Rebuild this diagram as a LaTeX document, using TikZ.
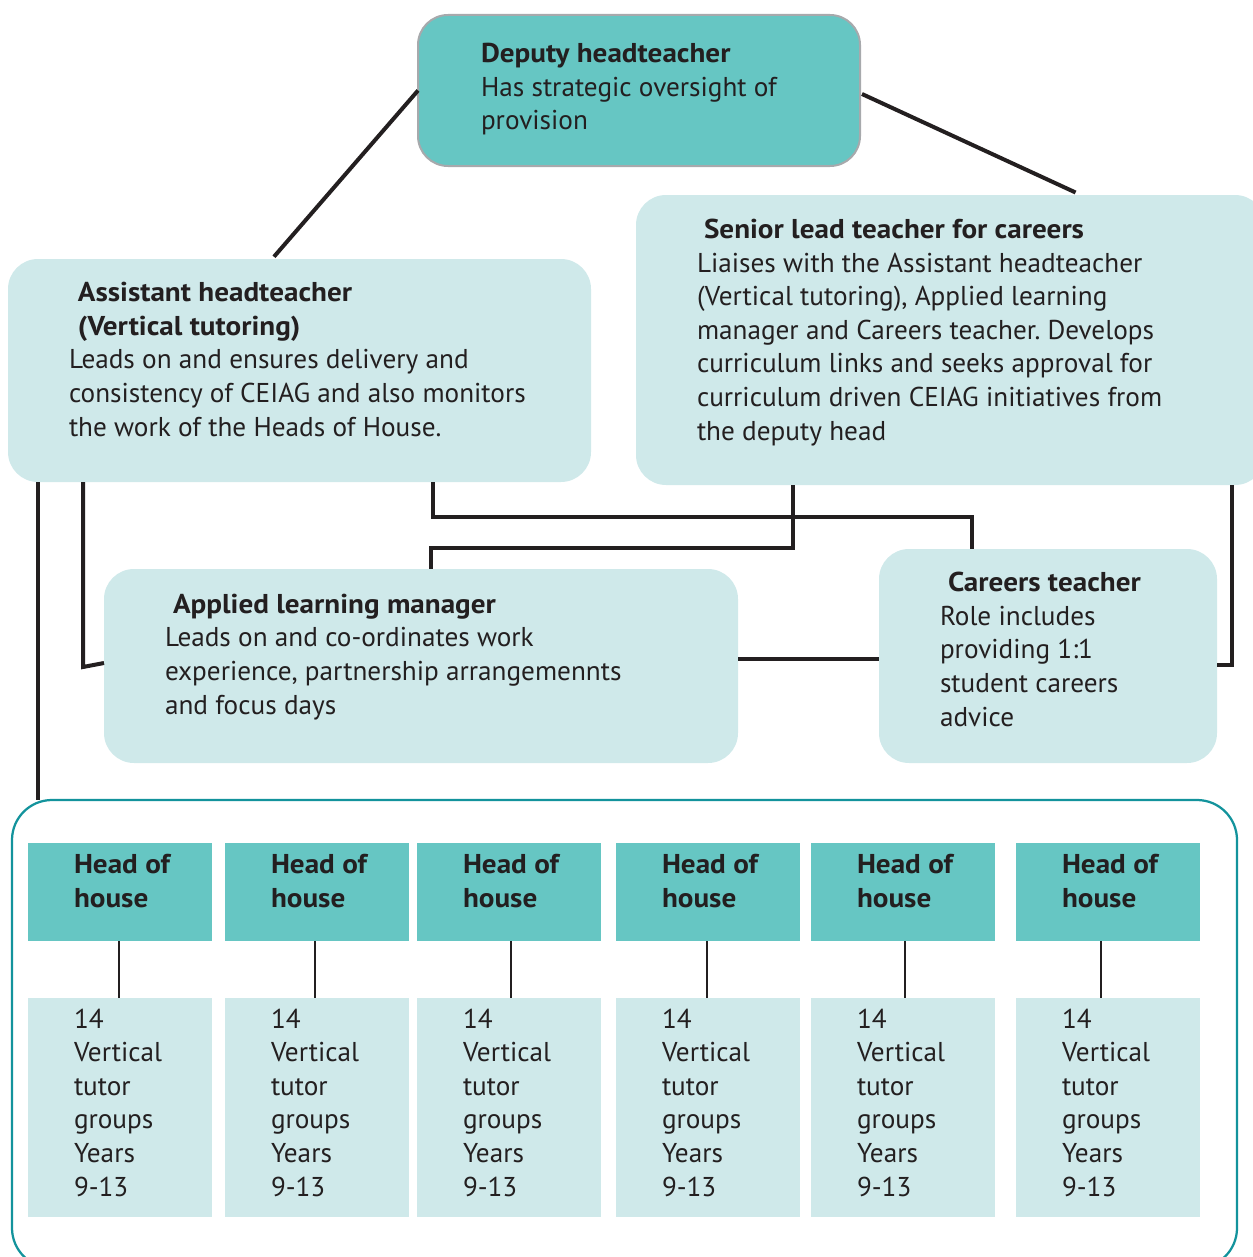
\documentclass[tikz,border=0pt]{standalone}
\usepackage{fontspec}
\setmainfont{PT Sans}[BoldFeatures={FakeStretch=1.07}]
\frenchspacing
\definecolor{tealdark}{HTML}{66C6C3}
\definecolor{teallight}{HTML}{CFE9EA}
\definecolor{outlinec}{HTML}{13939C}
\definecolor{linec}{HTML}{231F20}
\definecolor{borderc}{HTML}{A7A9AC}
\newcommand\mkbox[6]{\node[#1, minimum width={(#5-#3)*0.02cm}, minimum height={(#6-#4)*0.02cm}] (#2) at ({(#3+#5)/2},{(#4+#6)/2}) {};}
\begin{document}
\begin{tikzpicture}[x=0.02cm,y=-0.02cm,
  boxbase/.style={rectangle, inner sep=0pt, outer sep=0pt},
  darkround/.style={boxbase, fill=tealdark, draw=borderc, line width=0.04cm, rounded corners=0.6cm},
  lightround/.style={boxbase, fill=teallight, rounded corners=0.6cm},
  darksq/.style={boxbase, fill=tealdark},
  lightsq/.style={boxbase, fill=teallight},
  outline/.style={boxbase, draw=outlinec, line width=0.045cm, rounded corners=0.8cm},
  conn/.style={draw=linec, line width=0.08cm},
  thinconn/.style={draw=linec, line width=0.04cm},
  txt/.style={anchor=base west, align=left, inner sep=0pt, outer sep=0pt, text=linec, font=\fontsize{15.5}{19.1}\selectfont},
]
\useasboundingbox (0,0) rectangle (1252,1257);
% boxes
\mkbox{darkround}{deputy}{418}{15}{860}{166}
\mkbox{lightround}{asst}{8}{259}{591}{482}
\mkbox{lightround}{senior}{636}{195}{1265}{485}
\mkbox{lightround}{applied}{104}{569}{738}{763}
\mkbox{lightround}{careers}{879}{549}{1217}{763}
\mkbox{outline}{houses}{12}{800}{1237}{1268}
\foreach \x/\n/\lx in {28/1/119,225/2/315,417/3/511,616/4/707,811/5/905,1016/6/1101}{
  \mkbox{darksq}{head\n}{\x}{843}{\x+184}{941}
  \mkbox{lightsq}{tut\n}{\x}{998}{\x+184}{1217}
  \draw[thinconn] (head\n.south -| \lx,0) -- (tut\n.north -| \lx,0);
  \node[txt] (headt\n) at (\x+46,907) {\textbf{Head of}\\\textbf{house}};
  \node[txt] (tutt\n) at (\x+46,1196) {14\\Vertical\\tutor\\groups\\Years\\9-13};
}
% texts (anchored at the baseline of the last line)
\node[txt] (deputy-t) at (481,130) {\textbf{Deputy headteacher}\\Has strategic oversight of\\provision};
\node[txt] (asst-t) at (69,436) {\hspace*{0.18cm}\textbf{Assistant headteacher}\\\hspace*{0.18cm}\textbf{(Vertical tutoring)}\\Leads on and ensures delivery and\\consistency of CEIAG and also monitors\\the work of the Heads of House.};
\node[txt] (senior-t) at (697,440) {\hspace*{0.14cm}\textbf{Senior lead teacher for careers}\\Liaises with the Assistant headteacher\\(Vertical tutoring), Applied learning\\manager and Careers teacher. Develops\\curriculum links and seeks approval for\\curriculum driven CEIAG initiatives from\\the deputy head};
\node[txt] (applied-t) at (165,714) {\hspace*{0.16cm}\textbf{Applied learning manager}\\Leads on and co-ordinates work\\experience, partnership arrangemennts\\and focus days};
\node[txt] (careers-t) at (940,726) {\hspace*{0.16cm}\textbf{Careers teacher}\\Role includes\\providing 1:1\\student careers\\advice};
% connectors
\draw[conn, shorten >=0.06cm] (deputy.west) -- (asst.north -| 272,0);
\draw[conn, shorten >=0.12cm] ([xshift=0.04cm]deputy.east |- 0,94) -- (senior.north -| 1081,0);
\draw[conn] (asst.south -| 38,0) -- (houses.north -| 38,0);
\draw[conn] (asst.south -| 83,0) -- (83,667) -- (applied.west |- 0,663);
\draw[conn] (asst.south -| 433,0) -- (433,517) -- (972,517) -- (careers.north -| 972,0);
\draw[conn] (senior.south -| 793,0) -- (793,548) -- (431,548) -- (applied.north -| 431,0);
\draw[conn] (senior.south -| 1232,0) -- (1232,665) -- (careers.east |- 0,665);
\draw[conn] (applied.east |- 0,659) -- (careers.west |- 0,659);
\end{tikzpicture}
\end{document}
